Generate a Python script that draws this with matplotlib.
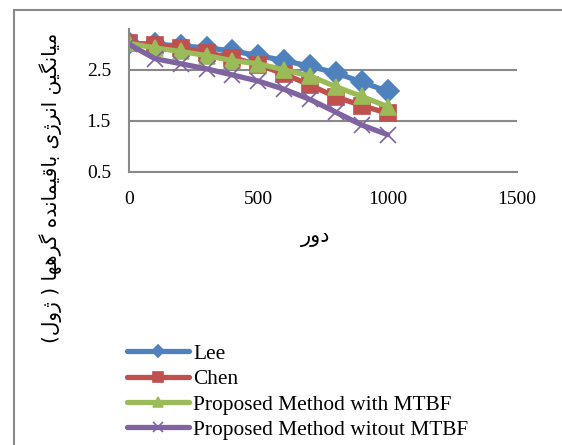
import matplotlib
matplotlib.use('Agg')
import matplotlib.pyplot as plt
from matplotlib.patches import Rectangle

rounds = [0, 100, 200, 300, 400, 500, 600, 700, 800, 900, 1000]
lee = [3.02, 3.0, 2.97, 2.93, 2.87, 2.78, 2.68, 2.57, 2.44, 2.26, 2.08]
chen = [3.03, 2.98, 2.93, 2.83, 2.74, 2.6, 2.42, 2.2, 1.97, 1.8, 1.65]
with_mtbf = [3.02, 2.93, 2.86, 2.78, 2.68, 2.62, 2.5, 2.38, 2.17, 1.98, 1.78]
without_mtbf = [3.0, 2.72, 2.62, 2.52, 2.4, 2.28, 2.12, 1.92, 1.67, 1.42, 1.23]
labels = ['Lee', 'Chen', 'Proposed Method with MTBF', 'Proposed Method witout MTBF']
xticks = [0, 500, 1000, 1500]
yticks = [0.5, 1.5, 2.5]
ylabel_fa = 'میانگین انرژی باقیمانده گرهها ( ژول)'
xlabel_fa = 'دور'

# arabic presentation forms: isolated, final, initial, medial
FORMS = {
    'ا': (0xFE8D, 0xFE8E, None, None),
    'ب': (0xFE8F, 0xFE90, 0xFE91, 0xFE92),
    'ق': (0xFED5, 0xFED6, 0xFED7, 0xFED8),
    'ل': (0xFEDD, 0xFEDE, 0xFEDF, 0xFEE0),
    'م': (0xFEE1, 0xFEE2, 0xFEE3, 0xFEE4),
    'ن': (0xFEE5, 0xFEE6, 0xFEE7, 0xFEE8),
    'ه': (0xFEE9, 0xFEEA, 0xFEEB, 0xFEEC),
    'و': (0xFEED, 0xFEEE, None, None),
    'د': (0xFEA9, 0xFEAA, None, None),
    'ر': (0xFEAD, 0xFEAE, None, None),
    'ز': (0xFEAF, 0xFEB0, None, None),
    'ژ': (0xFB8A, 0xFB8B, None, None),
    'ی': (0xFBFC, 0xFBFD, 0xFBFE, 0xFBFF),
    'گ': (0xFB92, 0xFB93, 0xFB94, 0xFB95),
}
MIRROR = {'(': ')', ')': '('}


def visual(text):
    out = []
    for i, c in enumerate(text):
        if c not in FORMS:
            out.append(MIRROR.get(c, c))
            continue
        prev = text[i - 1] if i > 0 else ''
        nxt = text[i + 1] if i + 1 < len(text) else ''
        join_prev = prev in FORMS and FORMS[prev][2] is not None
        join_next = FORMS[c][2] is not None and nxt in FORMS
        if join_prev and join_next:
            f = FORMS[c][3]
        elif join_prev:
            f = FORMS[c][1]
        elif join_next:
            f = FORMS[c][2]
        else:
            f = FORMS[c][0]
        out.append(chr(f))
    return ''.join(reversed(out))


plt.rcParams['font.family'] = ['Liberation Serif', 'DejaVu Sans']

fig = plt.figure(figsize=(5.62, 4.45), dpi=100)
fig.patches.append(Rectangle((14 / 562, -0.1), 1.2, 1 - 10 / 445 + 0.1,
                             transform=fig.transFigure, fill=False,
                             edgecolor='#898989', linewidth=1.5))
ax = fig.add_axes([129 / 562, 1 - 172 / 445, (517 - 129) / 562, (172 - 29) / 445])

styles = [('#4F81BD', 'D', 11), ('#C0504D', 's', 11), ('#9BBB59', '^', 12), ('#8064A2', 'x', 12)]
series = [lee, chen, with_mtbf, without_mtbf]
for ys, lab, (col, mk, ms) in zip(series, labels, styles):
    ax.plot(rounds, ys, color=col, lw=3.8, marker=mk, markersize=ms,
            markeredgecolor=col, markeredgewidth=1.2, label=lab, solid_capstyle='round')

ax.set_xlim(0, 1500)
ax.set_ylim(0.5, 3.3)
ax.set_xticks(xticks)
ax.set_yticks(yticks)
ax.tick_params(length=0, labelsize=14)
ax.tick_params(axis='x', pad=14)
ax.tick_params(axis='y', pad=13)
ax.grid(axis='y', color='#898989', lw=1.5)
ax.set_axisbelow(True)
for s in ['top', 'right']:
    ax.spines[s].set_visible(False)
for s in ['left', 'bottom']:
    ax.spines[s].set_color('#898989')
    ax.spines[s].set_linewidth(1.5)

fig.text(316 / 562, 1 - 237 / 445, visual(xlabel_fa), ha='center', va='center',
         fontsize=15, family=['DejaVu Sans'])
fig.text(51 / 562, 1 - 188 / 445, visual(ylabel_fa), ha='center', va='center',
         rotation=90, fontsize=14.5, family=['DejaVu Sans'])

fig.legend(loc='upper left', bbox_to_anchor=(127 / 562, 1 - 344 / 445), frameon=False,
           fontsize=15.4, handlelength=2.9, handletextpad=0.2, labelspacing=0.25,
           markerscale=0.6, borderpad=0, borderaxespad=0)

fig.savefig('out.png', dpi=100)
